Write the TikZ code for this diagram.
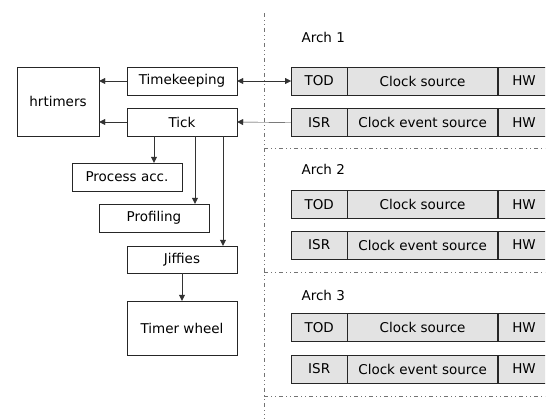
\documentclass[tikz,border=0pt]{standalone}
\usepackage{fontspec}
\setmainfont{DejaVu Sans}
\usetikzlibrary{arrows.meta}

\begin{document}
\begin{tikzpicture}[x=1bp,y=-1bp,
	font=\fontsize{13.5bp}{16bp}\selectfont,
	box/.style={draw=black!85, fill=white, inner sep=0pt, minimum height=28bp},
	archbox/.style={box, fill=black!11},
	arr/.style={draw=black!80, -{Triangle[length=6bp,width=6bp]}},
	sepline/.style={draw=black!55, dash pattern=on 4bp off 3bp on 1bp off 3bp on 1bp off 3bp}]
				%%%%% START %%%%%
				\def\xsep{264}
				\def\xarch{291}
				\def\wtod{56}
				\def\wsrc{150}
				\def\whw{72}
				\def\wbox{110}

				\useasboundingbox (0,0) rectangle (546,419);
				\clip (-1,-1) rectangle (545,420);

				% generic time keeping side
				\node[box, minimum width=82bp, minimum height=69bp] (hrtimers) at (58,101.5) {hrtimers};
				\node[box, minimum width=\wbox bp] (timekeeping) at (182,81) {Timekeeping};
				\node[box, minimum width=\wbox bp] (tick) at (182,122) {Tick};
				\node[box, minimum width=\wbox bp] (procacc) at (127,177) {Process acc.};
				\node[box, minimum width=\wbox bp] (profiling) at (154,218) {Profiling};
				\node[box, minimum width=\wbox bp, minimum height=27bp] (jiffies) at (182,259.5) {Jiffies};
				\node[box, minimum width=\wbox bp, minimum height=54bp] (timerwheel) at (182,328) {Timer wheel};

				\coordinate (tp) at (195,0);
				\coordinate (tj) at (223,0);

				\draw[arr] (timekeeping.west) -- (timekeeping.west -| hrtimers.east);
				\draw[arr] (tick.west) -- (tick.west -| hrtimers.east);
				\draw[arr] (tick.south -| profiling.north) -- (procacc.north -| profiling.north);
				\draw[arr] (tick.south -| tp) -- (profiling.north -| tp);
				\draw[arr] (tick.south -| tj) -- (jiffies.north -| tj);
				\draw[arr] (jiffies) -- (timerwheel);

				% architecture side
				\draw[sepline] (\xsep,13) -- (\xsep,419);
				\foreach \i/\ylab/\ytod/\yisr/\yline in {1/37/81/122.5/148, 2/169/204.5/245/272, 3/295/327.5/369/396}{
					\node[anchor=west] (arch\i) at (298,\ylab) {Arch \i};
					\node[archbox, minimum width=\wtod bp, anchor=west] (tod\i) at (\xarch,\ytod) {TOD};
					\node[archbox, minimum width=\wsrc bp, anchor=west] (clksrc\i) at (tod\i.east) {Clock source};
					\node[archbox, minimum width=\whw bp, anchor=west] (hwa\i) at (clksrc\i.east) {\makebox[52bp]{HW}\hspace*{20bp}};
					\node[archbox, minimum width=\wtod bp, anchor=west] (isr\i) at (\xarch,\yisr) {ISR};
					\node[archbox, minimum width=\wsrc bp, anchor=west] (clkevt\i) at (isr\i.east) {Clock event source};
					\node[archbox, minimum width=\whw bp, anchor=west] (hwb\i) at (clkevt\i.east) {\makebox[52bp]{HW}\hspace*{20bp}};
					\draw[sepline] (\xsep,\yline) -- (560,\yline);
				}

				\draw[arr, {Triangle[length=6bp,width=6bp]}-{Triangle[length=6bp,width=6bp]}] (timekeeping.east) -- (tod1.west);
				\draw[arr] (isr1.west) -- (tick.east);
				%%%%% END %%%%%
\end{tikzpicture}
\end{document}
